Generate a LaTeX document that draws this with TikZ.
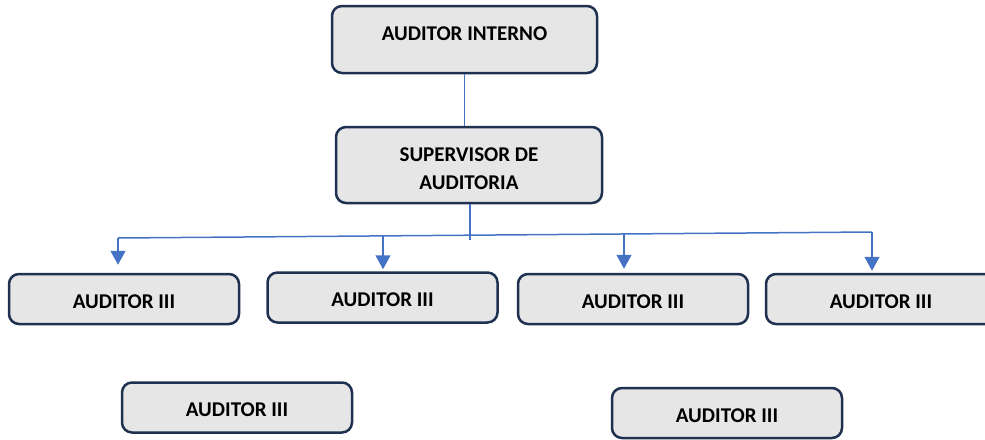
\documentclass[tikz,border=0pt]{standalone}
\usepackage{fontspec}
\setmainfont{Carlito}
\usetikzlibrary{arrows.meta}
\definecolor{borde}{HTML}{1F3150}
\definecolor{relleno}{HTML}{E7E6E6}
\definecolor{azul}{HTML}{4472C4}
\tikzset{
  caja/.style={draw=borde,fill=relleno,line width=2.5pt,rounded corners=10pt,
    minimum width=230pt,minimum height=50pt,inner sep=0pt,align=center,
    text height=18pt,text depth=0pt,
    font=\fontsize{21}{28}\selectfont\bfseries},
  conector/.style={azul,line width=1.5pt},
  flecha/.style={conector,-{Triangle[width=15pt,length=14pt]}}
}
\begin{document}
\begin{tikzpicture}[x=1pt,y=-1pt]
  \useasboundingbox (0,0) rectangle (985,439);
  \node[caja,minimum width=265pt,minimum height=67pt,text height=15pt,text depth=14pt] (interno) at (464.5,39.5) {AUDITOR INTERNO};
  \node[caja,minimum width=266pt,minimum height=76pt,text height=49pt] (supervisor) at (469,165) {SUPERVISOR DE\\AUDITORIA};
  \node[caja] (aud1) at (124,299) {AUDITOR III};
  \node[caja] (aud2) at (382.5,297.5) {AUDITOR III};
  \node[caja] (aud3) at (633,299) {AUDITOR III};
  \node[caja] (aud4) at (881,299) {AUDITOR III};
  \node[caja] (aud5) at (237,407.5) {AUDITOR III};
  \node[caja] (aud6) at (727,413) {AUDITOR III};
  \coordinate (nudo) at (470,240);
  \coordinate (b1) at (118,238);
  \coordinate (b2) at (383,235.9);
  \coordinate (b3) at (624,234);
  \coordinate (b4) at (872,232);
  \draw[conector] (interno.south) -- (interno.south |- supervisor.north);
  \draw[conector] (supervisor.south -| nudo) -- (nudo);
  \draw[conector] (b1) -- (b4);
  \foreach \b/\a/\g in {b1/aud1/8,b2/aud2/2,b3/aud3/4,b4/aud4/2}
    \draw[flecha,shorten >=\g pt] (\b) -- (\b |- \a.north);
\end{tikzpicture}
\end{document}
